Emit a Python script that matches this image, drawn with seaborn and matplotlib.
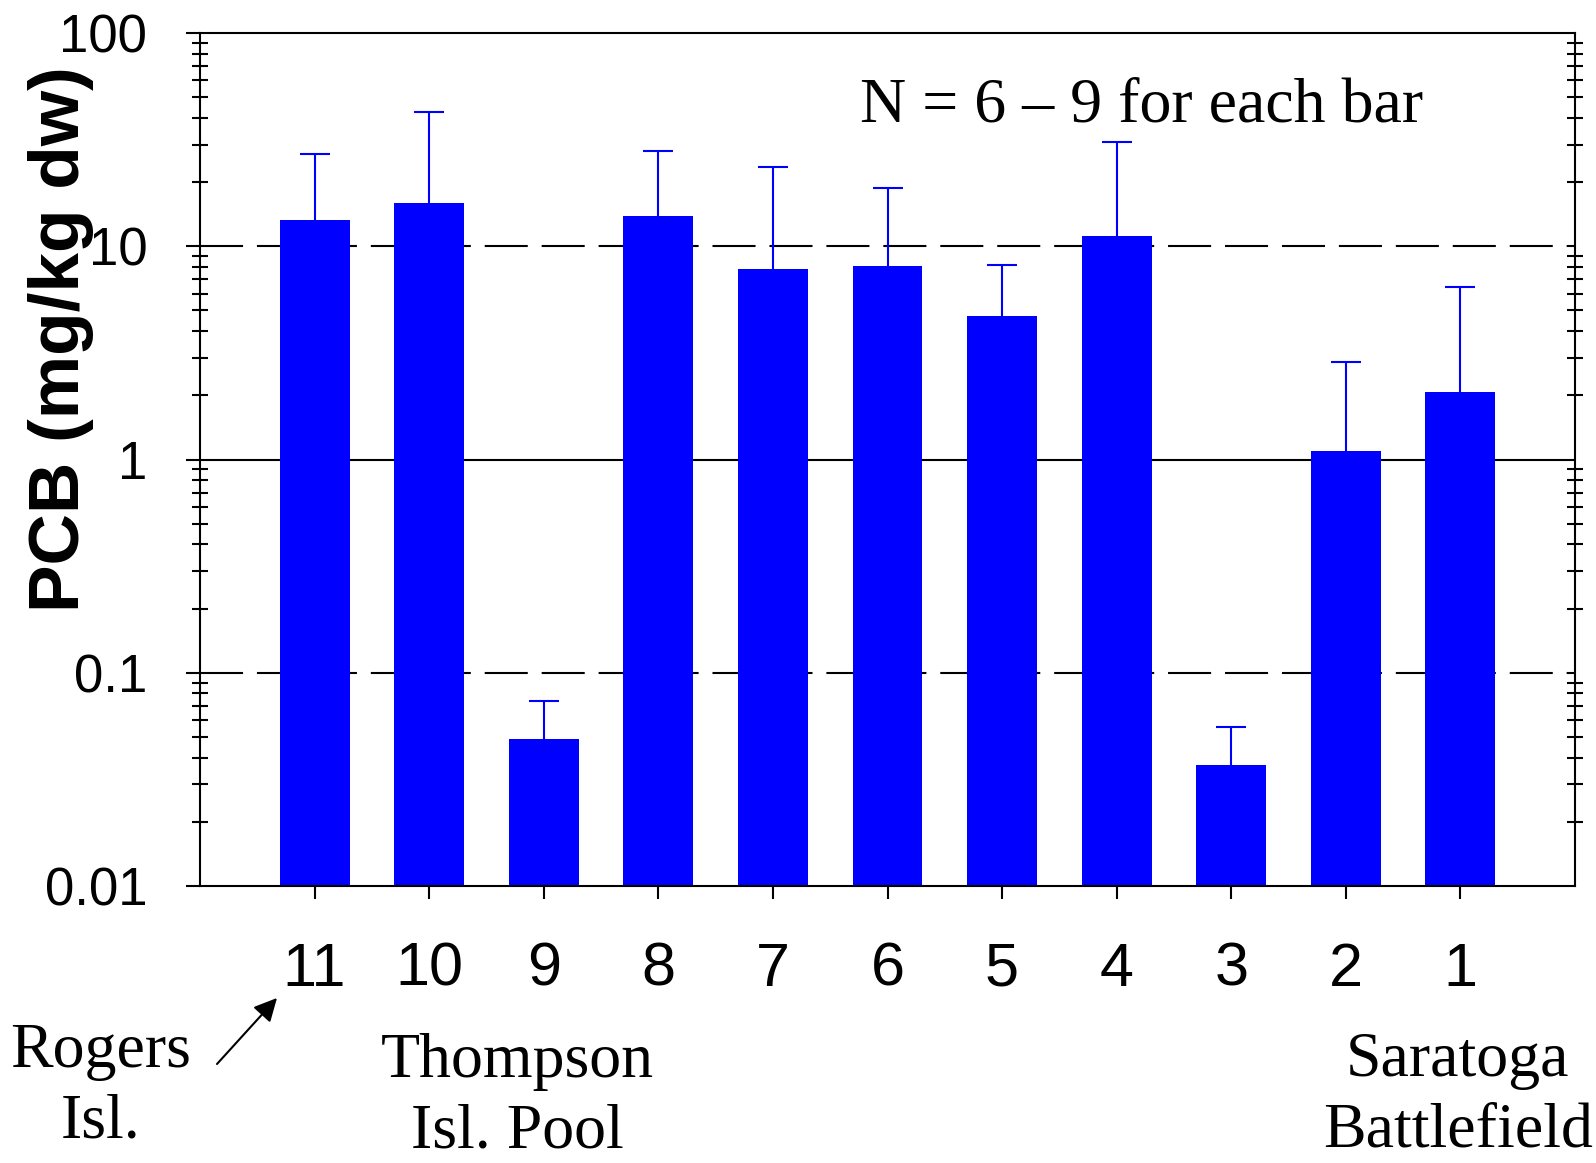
import matplotlib
matplotlib.use("Agg")
import matplotlib.pyplot as plt
import matplotlib.ticker as mticker
import seaborn as sns
import pandas as pd
import numpy as np

# ---- data ----
stations = ["11", "10", "9", "8", "7", "6", "5", "4", "3", "2", "1"]
pcb_mean = [13.3, 16.0, 0.049, 13.9, 7.85, 8.1, 4.73, 11.2, 0.0371, 1.10, 2.07]
pcb_upper = [27.2, 42.6, 0.0735, 28.1, 23.6, 18.7, 8.2, 30.7, 0.0558, 2.87, 6.41]
ytick_vals = [0.01, 0.1, 1, 10, 100]
ytick_labels = ["0.01", "0.1", "1", "10", "100"]

sns.set_theme(style="white")
plt.rcParams["font.family"] = ["Liberation Sans", "DejaVu Sans"]
plt.rcParams["lines.scale_dashes"] = False
for k in ["text.color", "axes.labelcolor", "xtick.color", "ytick.color", "axes.edgecolor"]:
    plt.rcParams[k] = "black"

df = pd.DataFrame({"station": stations, "pcb": pcb_mean})

fig = plt.figure(figsize=(15.96, 11.63), dpi=100)
ax = fig.add_axes([200/1596, 1 - 886/1163, 1375/1596, 853/1163])
ax.set_yscale("log")

# gridlines behind bars
ax.axhline(10, color="black", lw=1.5, ls=(0, (31, 10)), zorder=0.5)
ax.axhline(0.1, color="black", lw=1.5, ls=(0, (31, 10)), zorder=0.5)
ax.axhline(1, color="black", lw=1.5, ls="-", zorder=0.5)

sns.barplot(data=df, x="station", y="pcb", order=stations, color="#0000FF",
            saturation=1, width=0.61, ax=ax, zorder=2, errorbar=None,
            linewidth=0)

xpos = np.arange(len(stations))
lower = np.zeros(len(stations))
upper = np.array(pcb_upper) - np.array(pcb_mean)
eb = ax.errorbar(xpos, pcb_mean, yerr=[lower, upper], fmt="none", ecolor="#0000FF",
                 elinewidth=1.5, capsize=10.5, capthick=1.5, zorder=3)
# hide the lower (zero-length) caps
eb[1][0].set_visible(False)

ax.set_ylim(0.01, 100)
ax.set_xlim(-1, len(stations))

for s in ax.spines.values():
    s.set_linewidth(1.5)
    s.set_color("black")
    s.set_visible(True)

ax.yaxis.set_major_locator(mticker.FixedLocator(ytick_vals))
ax.yaxis.set_major_formatter(mticker.FixedFormatter(ytick_labels))
ax.yaxis.set_minor_locator(mticker.LogLocator(base=10, subs=np.arange(2, 10)))
ax.yaxis.set_minor_formatter(mticker.NullFormatter())

ax.tick_params(axis="y", which="major", direction="out", length=10, width=1.5,
               left=True, right=False, labelsize=38, pad=28, color="black",
               labelcolor="black")
ax.tick_params(axis="y", which="minor", direction="inout", length=12, width=1.5,
               left=True, right=True, color="black")
ax.tick_params(axis="x", which="major", direction="out", length=9, width=1.5,
               bottom=True, labelsize=44, pad=31, color="black",
               labelcolor="black")

ax.set_xlabel("")
ax.set_ylabel("PCB (mg/kg dw)", fontsize=51.3, fontweight="bold", color="black")
ax.yaxis.set_label_coords(-0.077, 0.641)

ax.text(0.685, 0.8957, "N = 6 \u2013 9 for each bar", transform=ax.transAxes,
        ha="center", va="baseline", fontsize=46, family=["Liberation Serif"],
        color="black")

serif = ["Liberation Serif"]
fig.text(101/1596, 1 - 1087/1163, "Rogers\nIsl.", ha="center", va="center",
         fontsize=46, family=serif, multialignment="center", color="black",
         linespacing=1.29)
fig.text(517/1596, 1 - 1097/1163, "Thompson\nIsl. Pool", ha="center", va="center",
         fontsize=46, family=serif, multialignment="center", color="black",
         linespacing=1.29)
fig.text(1458/1596, 1 - 1096/1163, "Saratoga\nBattlefield", ha="center", va="center",
         fontsize=46, family=serif, multialignment="center", color="black",
         linespacing=1.29)

ax.annotate("", xy=(277/1596, 1 - 998/1163), xytext=(217/1596, 1 - 1064/1163),
            xycoords="figure fraction", textcoords="figure fraction",
            arrowprops=dict(arrowstyle="-|>", color="black", lw=1.5,
                            mutation_scale=35, shrinkA=0, shrinkB=0),
            annotation_clip=False)

fig.savefig("out.png", dpi=100)
